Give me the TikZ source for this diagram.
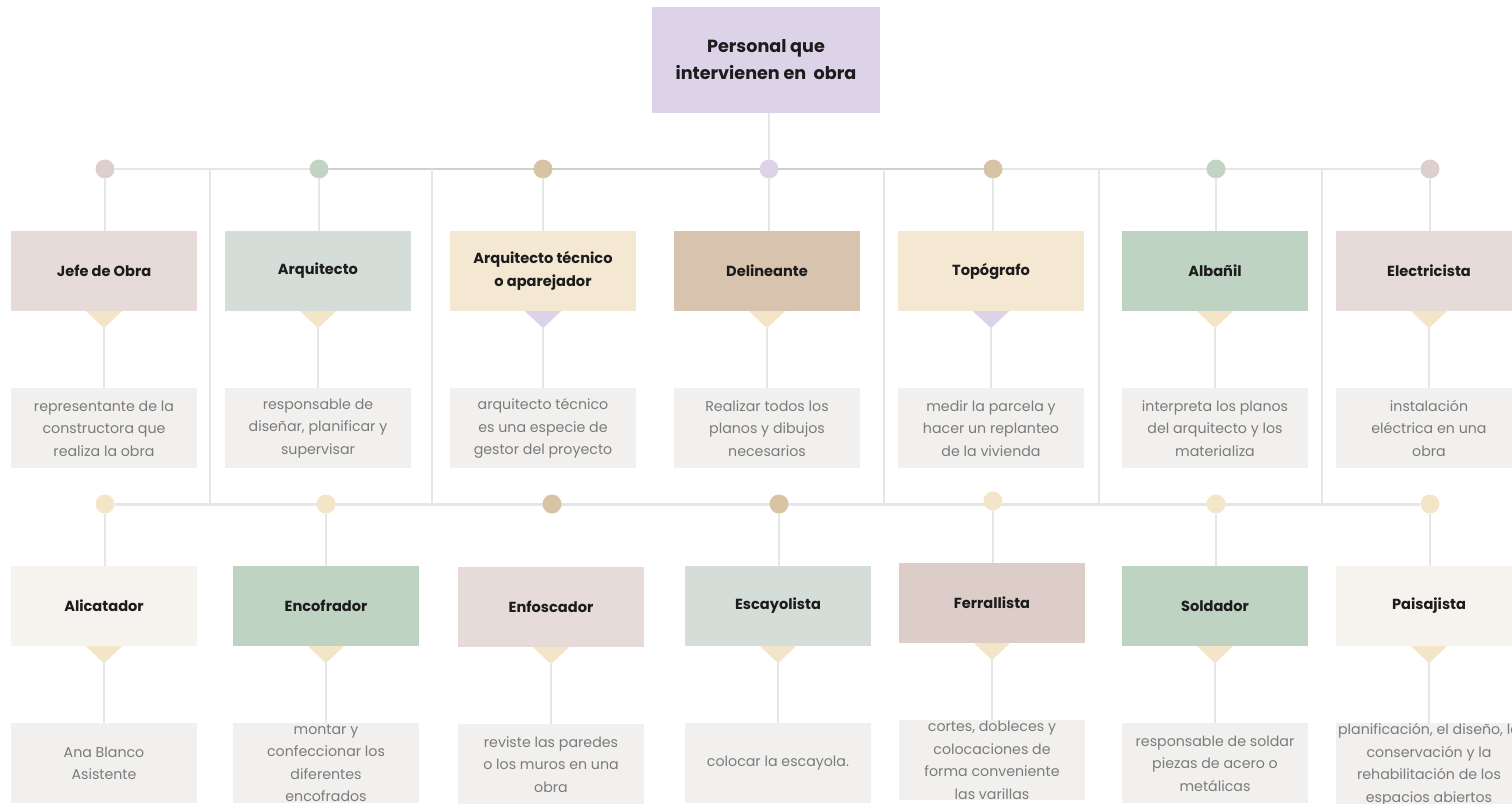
\documentclass[tikz,border=0pt]{standalone}
\usepackage{fontspec}
\setmainfont{Poppins}
\usetikzlibrary{positioning, backgrounds}

\definecolor{lavender}{HTML}{DCD3E8}
\definecolor{rosebox}{HTML}{E6DBD8}
\definecolor{sagebox}{HTML}{D5DDD8}
\definecolor{creambox}{HTML}{F4E8D2}
\definecolor{tanbox}{HTML}{D8C3AE}
\definecolor{greenbox}{HTML}{BFD3C2}
\definecolor{palebox}{HTML}{F6F3EE}
\definecolor{mauvebox}{HTML}{DCCDC9}
\definecolor{notefill}{HTML}{F1F0EE}
\definecolor{notetext}{HTML}{7B7B7B}
\definecolor{tipcream}{HTML}{F3E5C8}
\definecolor{rosedot}{HTML}{DCCFCC}
\definecolor{greendot}{HTML}{C2D4C3}
\definecolor{tandot}{HTML}{D8C3A5}
\definecolor{rulegray}{HTML}{E6E6E6}
\definecolor{rulemid}{HTML}{CFCFCF}
\definecolor{inkdark}{HTML}{1C1C1C}

\begin{document}
\begin{tikzpicture}[
  x=1pt, y=-1pt,
  every node/.style = {font=\fontsize{14.2}{22.5}\selectfont},
  head/.style = {
    fill=lavender,
    minimum width=228pt,
    minimum height=106pt,
    inner sep=0pt,
    align=center,
    text=inkdark,
    font=\fontsize{17.6}{27}\selectfont\bfseries
  },
  role/.style = {
    minimum width=186pt,
    minimum height=80pt,
    inner sep=0pt,
    align=center,
    text=inkdark,
    font=\fontsize{14.6}{23}\selectfont\bfseries
  },
  note/.style = {
    fill=notefill,
    minimum width=186pt,
    minimum height=80pt,
    inner sep=0pt,
    align=center,
    text=notetext,
    below=77pt of #1
  },
  dot/.style = {
    circle,
    minimum size=19pt,
    inner sep=0pt,
    fill=#1
  },
  rule/.style = {
    rulegray,
    line width=2pt
  }
]

\useasboundingbox (0,0) rectangle (1512,803);

% title
\node[head] (head) at (766,60) {Personal que\\intervienen en\ \ obra};

% upper rail dots
\node[dot=rosedot] (d1) at (105,169) {};
\node[dot=greendot] (d2) at (319,169) {};
\node[dot=tandot] (d3) at (543,169) {};
\node[dot=lavender] (d4) at (769,169) {};
\node[dot=tandot] (d5) at (993,169) {};
\node[dot=greendot] (d6) at (1216,169) {};
\node[dot=rosedot] (d7) at (1430,169) {};

% lower rail dots
\node[dot=tipcream] (e1) at (105,504) {};
\node[dot=tipcream] (e2) at (326,504) {};
\node[dot=tandot] (e3) at (552,504) {};
\node[dot=tandot] (e4) at (779,504) {};
\node[dot=tipcream] (e5) at (993,501) {};
\node[dot=tipcream] (e6) at (1216,504) {};
\node[dot=tipcream] (e7) at (1430,504) {};

% dividers between the rails
\coordinate (v1) at (210,169);  \coordinate (w1) at (210,503);
\coordinate (v2) at (432,169);  \coordinate (w2) at (432,503);
\coordinate (v3) at (884,169);  \coordinate (w3) at (884,503);
\coordinate (v4) at (1099,169); \coordinate (w4) at (1099,503);
\coordinate (v5) at (1322,169); \coordinate (w5) at (1322,503);

% upper row
\node[role, fill=rosebox] (jefe) at (104,271) {Jefe de Obra};
\node[role, fill=sagebox] (arq) at (318,271) {Arquitecto};
\node[role, fill=creambox] (tec) at (543,271) {Arquitecto técnico\\o aparejador};
\node[role, fill=tanbox] (deli) at (767,271) {Delineante};
\node[role, fill=creambox] (topo) at (991,271) {Topógrafo};
\node[role, fill=greenbox] (alba) at (1215,271) {Albañil};
\node[role, fill=rosebox] (elec) at (1429,271) {Electricista};

\node[note=jefe] (jefe n) {representante de la\\constructora que\\realiza la obra};
\node[note=arq] (arq n) {responsable de\\diseñar, planificar y\\supervisar};
\node[note=tec] (tec n) {arquitecto técnico\\es una especie de\\gestor del proyecto};
\node[note=deli] (deli n) {Realizar todos los\\planos y dibujos\\necesarios};
\node[note=topo] (topo n) {medir la parcela y\\hacer un replanteo\\de la vivienda};
\node[note=alba] (alba n) {interpreta los planos\\del arquitecto y los\\materializa};
\node[note=elec] (elec n) {instalación\\eléctrica en una\\obra};

% lower row
\node[role, fill=palebox] (alic) at (104,606) {Alicatador};
\node[role, fill=greenbox] (enco) at (326,606) {Encofrador};
\node[role, fill=rosebox] (enfo) at (551,607) {Enfoscador};
\node[role, fill=sagebox] (esca) at (778,606) {Escayolista};
\node[role, fill=mauvebox] (ferr) at (992,603) {Ferrallista};
\node[role, fill=greenbox] (sold) at (1215,606) {Soldador};
\node[role, fill=palebox] (pais) at (1429,606) {Paisajista};

\node[note=alic] (alic n) {Ana Blanco\\Asistente};
\node[note=enco] (enco n) {montar y\\confeccionar los\\diferentes\\encofrados};
\node[note=enfo] (enfo n) {reviste las paredes\\o los muros en una\\obra};
\node[note=esca] (esca n) {colocar la escayola.};
\node[note=ferr] (ferr n) {cortes, dobleces y\\colocaciones de\\forma conveniente\\las varillas};
\node[note=sold] (sold n) {responsable de soldar\\piezas de acero o\\metálicas};
\node[note=pais] (pais n) {planificación, el diseño, la\\conservación y la\\rehabilitación de los\\espacios abiertos};

% pointers under the boxes
\fill[tipcream] (jefe.south) ++(-18,0) -- ++(36,0) -- ++(-18,17) coordinate (jefe t) -- cycle;
\fill[tipcream] (arq.south) ++(-18,0) -- ++(36,0) -- ++(-18,17) coordinate (arq t) -- cycle;
\fill[lavender] (tec.south) ++(-18,0) -- ++(36,0) -- ++(-18,17) coordinate (tec t) -- cycle;
\fill[tipcream] (deli.south) ++(-18,0) -- ++(36,0) -- ++(-18,17) coordinate (deli t) -- cycle;
\fill[lavender] (topo.south) ++(-18,0) -- ++(36,0) -- ++(-18,17) coordinate (topo t) -- cycle;
\fill[tipcream] (alba.south) ++(-18,0) -- ++(36,0) -- ++(-18,17) coordinate (alba t) -- cycle;
\fill[tipcream] (elec.south) ++(-18,0) -- ++(36,0) -- ++(-18,17) coordinate (elec t) -- cycle;
\fill[tipcream] (alic.south) ++(-18,0) -- ++(36,0) -- ++(-18,17) coordinate (alic t) -- cycle;
\fill[tipcream] (enco.south) ++(-18,0) -- ++(36,0) -- ++(-18,17) coordinate (enco t) -- cycle;
\fill[tipcream] (enfo.south) ++(-18,0) -- ++(36,0) -- ++(-18,17) coordinate (enfo t) -- cycle;
\fill[tipcream] (esca.south) ++(-18,0) -- ++(36,0) -- ++(-18,17) coordinate (esca t) -- cycle;
\fill[tipcream] (ferr.south) ++(-18,0) -- ++(36,0) -- ++(-18,17) coordinate (ferr t) -- cycle;
\fill[tipcream] (sold.south) ++(-18,0) -- ++(36,0) -- ++(-18,17) coordinate (sold t) -- cycle;
\fill[tipcream] (pais.south) ++(-18,0) -- ++(36,0) -- ++(-18,17) coordinate (pais t) -- cycle;

% rails and links
\begin{scope}[on background layer]
\draw[rule] (head.south -| d4) -- (d4);
\draw[rule] (d1) -- (d7);
\draw[rulemid, line width=2pt] (d2) -- (d5);
\draw[rule, line width=3pt] (e1) -- (e7);
\draw[rule] (v1) -- (w1);
\draw[rule] (v2) -- (w2);
\draw[rule] (v3) -- (w3);
\draw[rule] (v4) -- (w4);
\draw[rule] (v5) -- (w5);

\draw[rule] (d1) -- (d1 |- jefe.north);
\draw[rule] (d2) -- (d2 |- arq.north);
\draw[rule] (d3) -- (d3 |- tec.north);
\draw[rule] (d4) -- (d4 |- deli.north);
\draw[rule] (d5) -- (d5 |- topo.north);
\draw[rule] (d6) -- (d6 |- alba.north);
\draw[rule] (d7) -- (d7 |- elec.north);
\draw[rule] (e1) -- (e1 |- alic.north);
\draw[rule] (e2) -- (e2 |- enco.north);
\draw[rule] (e4) -- (e4 |- esca.north);
\draw[rule] (e5) -- (e5 |- ferr.north);
\draw[rule] (e6) -- (e6 |- sold.north);
\draw[rule] (e7) -- (e7 |- pais.north);

\draw[rule] (jefe t) -- (jefe n);
\draw[rule] (arq t) -- (arq n);
\draw[rule] (tec t) -- (tec n);
\draw[rule] (deli t) -- (deli n);
\draw[rule] (topo t) -- (topo n);
\draw[rule] (alba t) -- (alba n);
\draw[rule] (elec t) -- (elec n);
\draw[rule] (alic t) -- (alic n);
\draw[rule] (enco t) -- (enco n);
\draw[rule] (enfo t) -- (enfo n);
\draw[rule] (esca t) -- (esca n);
\draw[rule] (ferr t) -- (ferr n);
\draw[rule] (sold t) -- (sold n);
\draw[rule] (pais t) -- (pais n);
\end{scope}

\end{tikzpicture}
\end{document}
